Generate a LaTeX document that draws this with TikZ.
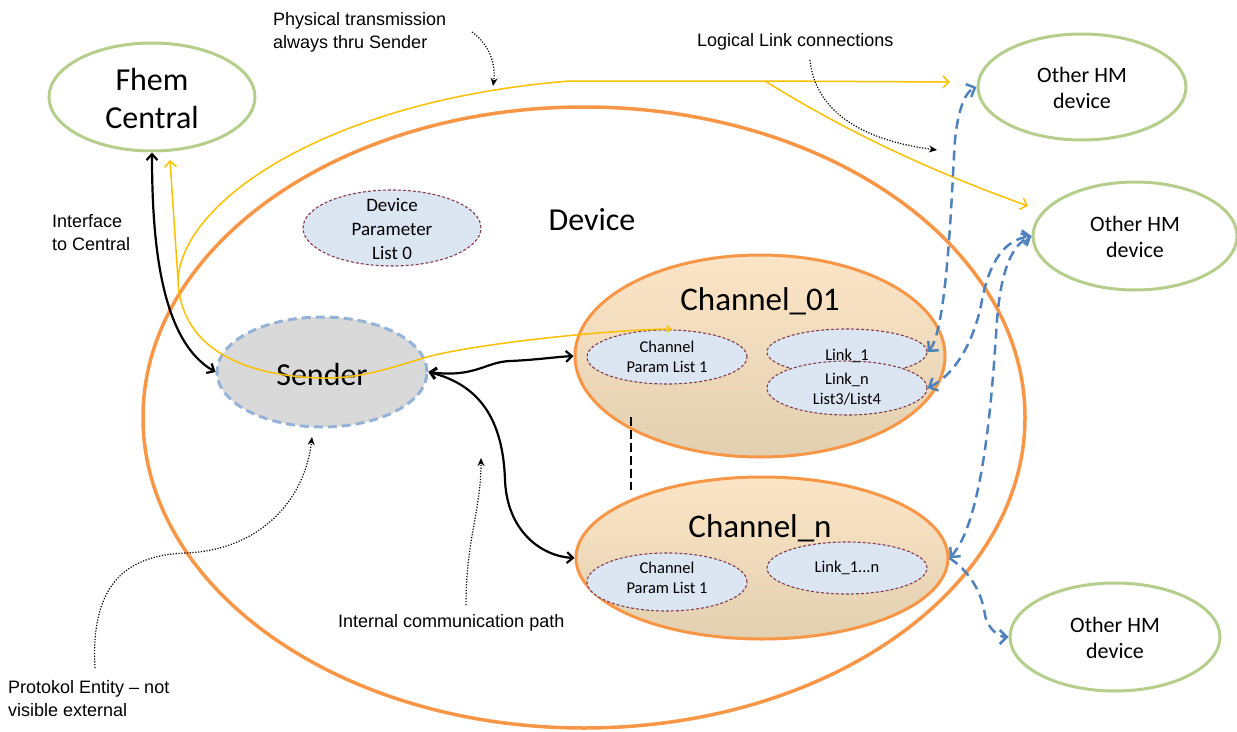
\documentclass[tikz,border=0pt]{standalone}
\usepackage{fontspec}
\setmainfont{Carlito}
\newfontfamily\arialf{Liberation Sans}
\usetikzlibrary{shapes.geometric,arrows.meta}
\definecolor{grn}{RGB}{181,206,140}
\definecolor{org}{RGB}{247,150,70}
\definecolor{ylw}{RGB}{250,192,0}
\definecolor{blu}{RGB}{79,129,189}
\definecolor{sbd}{RGB}{149,179,215}
\definecolor{sfill}{RGB}{217,217,217}
\definecolor{ifill}{RGB}{220,230,242}
\definecolor{ibd}{RGB}{130,60,75}
\definecolor{chtop}{RGB}{252,229,198}
\definecolor{chbot}{RGB}{226,208,176}
\begin{document}
\begin{tikzpicture}[x=1pt,y=-1pt,
  ell/.style={ellipse, inner sep=0pt},
  outer/.style={ell, draw=grn, line width=3pt, fill=white},
  inner/.style={ell, draw=ibd, fill=ifill, line width=1.1pt, dash pattern=on 3pt off 2pt},
  chan/.style={ell, draw=org, line width=3pt, top color=chtop, bottom color=chbot},
  big/.style={font=\fontsize{32}{38}\selectfont, align=center, inner sep=0pt},
  hmtxt/.style={font=\fontsize{22}{26}\selectfont, align=center, inner sep=0pt},
  smtxt/.style={font=\fontsize{16.5}{20}\selectfont, align=center, inner sep=0pt},
  ann/.style={font=\arialf\fontsize{18}{23}\selectfont, align=left, inner sep=0pt, anchor=west},
  blk/.style={line width=2.2pt, {Straight Barb[length=6pt,width=11pt]}-{Straight Barb[length=6pt,width=11pt]}},
  ylwline/.style={draw=ylw, line width=1.5pt},
  blud/.style={draw=blu, line width=2.5pt, dash pattern=on 10pt off 6pt},
  dott/.style={line width=1.2pt, dash pattern=on 1.2pt off 1.6pt, -{Stealth[length=8pt,width=7pt]}}
]
\useasboundingbox (0,0) rectangle (1237,731);

% Device
\node[ell, draw=org, line width=3.5pt, minimum width=882pt, minimum height=621pt] (device) at (584,417.5) {};
\node[big] (devT) at (592,220) {Device};

% outer devices
\node[outer, minimum width=206pt, minimum height=108pt] (fhem) at (152,97) {};
\node[big] (fhemT) at (152,99) {Fhem\\Central};
\node[outer, minimum width=208pt, minimum height=106pt] (hm1) at (1082,87) {};
\node[hmtxt] (hm1T) at (1082,88) {Other HM\\device};
\node[outer, minimum width=204pt, minimum height=108pt] (hm2) at (1135,236) {};
\node[hmtxt] (hm2T) at (1135,237) {Other HM\\device};
\node[outer, minimum width=210pt, minimum height=108pt] (hm3) at (1115,637) {};
\node[hmtxt] (hm3T) at (1115,638) {Other HM\\device};

% Device parameter list
\node[inner, minimum width=178pt, minimum height=76pt] (dpl) at (392,228) {};
\node[font=\fontsize{19}{24}\selectfont, align=center, inner sep=0pt] (dplT) at (392,229) {Device\\Parameter\\List 0};

% Sender
\node[ell, fill=sfill, draw=sbd, line width=3pt, dash pattern=on 9pt off 5pt, minimum width=210pt, minimum height=110pt] (sender) at (322,372) {};
\node[big] (senderT) at (322,374) {Sender};

% Channels
\node[chan, minimum width=370pt, minimum height=202pt] (ch01) at (760,356) {};
\node[big, font=\fontsize{33}{38}\selectfont] (ch01T) at (760,301) {Channel\_01};
\node[chan, minimum width=372pt, minimum height=162pt] (chn) at (762,558) {};
\node[big, font=\fontsize{33}{38}\selectfont] (chnT) at (760,528) {Channel\_n};

% inner lists
\node[inner, minimum width=160pt, minimum height=54pt] (cp1) at (667,357) {};
\node[smtxt] (cp1T) at (667,357) {Channel\\Param List 1};
\node[inner, minimum width=160pt, minimum height=46pt] (l1) at (847,352) {};
\node[inner, minimum width=160pt, minimum height=54pt] (ln) at (847,388) {};
\node[smtxt] (l1T) at (847,356) {Link\_1};
\node[smtxt] (lnT) at (847,389) {Link\_n\\List3/List4};
\node[inner, minimum width=160pt, minimum height=58pt] (cp2) at (667,582) {};
\node[smtxt] (cp2T) at (667,578) {Channel\\Param List 1};
\node[inner, minimum width=160pt, minimum height=52pt] (l1n) at (847,568) {};
\node[smtxt] (l1nT) at (847,568) {Link\_1...n};

% dashed black separator
\coordinate (dA) at (631,417);
\coordinate (dB) at (631,490);
\draw[line width=2.5pt, dash pattern=on 9pt off 4pt] (dA) -- (dB);

% annotations
\node[ann] (physT) at (273,32) {Physical transmission\\always thru Sender};
\node[ann] (logT) at (697,42) {Logical Link connections};
\node[ann] (intfT) at (52,233) {Interface\\to Central};
\node[ann] (protT) at (8,699) {Protokol Entity – not\\visible external};
\node[ann] (intT) at (338,623) {Internal communication path};

% yellow physical lines
\coordinate (y0) at (672,329);
\coordinate (yj) at (178,280);
\coordinate (yf) at (170,160);
\coordinate (yb) at (765,81);
\coordinate (yt1) at (950,82);
\coordinate (yt2) at (1028,206);
\draw[ylwline, {Straight Barb[length=4pt,width=6pt]}-] (y0) .. controls (600,330) and (470,345) .. (427,357)
  .. controls (390,368) and (360,379) .. (320,378) .. controls (230,375) and (180,340) .. (yj);
\draw[ylwline, -{Straight Barb[length=6pt,width=12pt]}] (yj) -- (yf);
\draw[ylwline, -{Straight Barb[length=6pt,width=12pt]}] (yj) .. controls (182,200) and (330,100) .. (570,81) -- (yb) -- (yt1);
\draw[ylwline, -{Straight Barb[length=6pt,width=12pt]}] (yb) .. controls (820,115) and (900,160) .. (yt2);

% black internal paths
\draw[blk] (fhem.south) .. controls (152,240) and (160,340) .. (sender.west);
\draw[blk] (sender.east) .. controls (475,378) and (485,362) .. (510,361) .. controls (535,360) and (555,357) .. (ch01.west);
\draw[blk] (sender.east) .. controls (480,385) and (503,420) .. (505,480) .. controls (507,530) and (540,556) .. (chn.west);

% blue logical links
\draw[blud, {Straight Barb[length=7pt,width=14pt]}-{Straight Barb[length=7pt,width=14pt]}] (l1.east) .. controls (948,330) and (952,180) .. (955,140) .. controls (958,110) and (965,92) .. (hm1.west);
\draw[blud, {Straight Barb[length=7pt,width=14pt]}-{Straight Barb[length=7pt,width=14pt]}] (ln.east) .. controls (955,375) and (975,340) .. (982,300) .. controls (990,260) and (1005,240) .. (hm2.west);
\draw[blud, {Straight Barb[length=7pt,width=14pt]}-{Straight Barb[length=7pt,width=14pt]}] (chn.east) .. controls (985,520) and (993,380) .. (997,320) .. controls (1001,270) and (1012,245) .. (hm2.west);
\draw[blud, -{Straight Barb[length=7pt,width=14pt]}] (chn.east) .. controls (975,575) and (983,600) .. (985,615) .. controls (988,630) and (1000,637) .. (hm3.west);

% dotted annotation arrows
\coordinate (pA) at (472,32);
\coordinate (pB) at (493,86);
\draw[dott] (pA) .. controls (490,45) and (496,65) .. (pB);
\coordinate (lA) at (810,60);
\coordinate (lB) at (937,150);
\draw[dott] (lA) .. controls (815,110) and (860,140) .. (lB);
\coordinate (eA) at (95,668);
\coordinate (eB) at (312,437);
\draw[dott] (eA) .. controls (90,580) and (130,555) .. (186,553) .. controls (260,550) and (305,500) .. (eB);
\coordinate (iA) at (466,605);
\coordinate (iB) at (481,458);
\draw[dott] (iA) .. controls (466,540) and (481,510) .. (iB);
\end{tikzpicture}
\end{document}
